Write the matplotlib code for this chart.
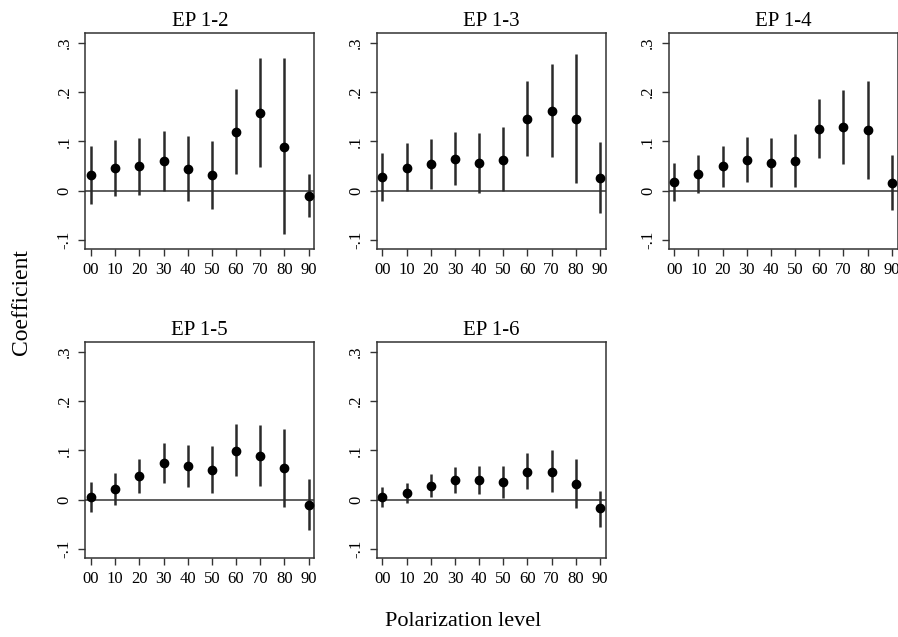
import matplotlib
matplotlib.use("Agg")
import matplotlib.pyplot as plt
import numpy as np

plt.rcParams['font.family'] = ['Liberation Serif', 'DejaVu Serif']

levels = [0, 10, 20, 30, 40, 50, 60, 70, 80, 90]
level_labels = ["00", "10", "20", "30", "40", "50", "60", "70", "80", "90"]
titles = ["EP 1-2", "EP 1-3", "EP 1-4", "EP 1-5", "EP 1-6"]

# point estimates
coef_12 = [0.031, 0.046, 0.049, 0.060, 0.043, 0.031, 0.119, 0.157, 0.089, -0.011]
coef_13 = [0.028, 0.046, 0.053, 0.064, 0.056, 0.062, 0.146, 0.162, 0.146, 0.025]
coef_14 = [0.017, 0.034, 0.049, 0.062, 0.056, 0.060, 0.125, 0.128, 0.123, 0.016]
coef_15 = [0.005, 0.021, 0.048, 0.074, 0.068, 0.060, 0.099, 0.089, 0.064, -0.010]
coef_16 = [0.006, 0.013, 0.028, 0.039, 0.039, 0.035, 0.057, 0.057, 0.032, -0.018]

# confidence interval bounds
lo_12 = [-0.027, -0.011, -0.009, 0.000, -0.022, -0.038, 0.034, 0.047, -0.087, -0.054]
hi_12 = [0.090, 0.103, 0.106, 0.120, 0.110, 0.101, 0.206, 0.268, 0.268, 0.033]
lo_13 = [-0.021, 0.000, 0.003, 0.011, -0.004, -0.001, 0.070, 0.068, 0.015, -0.045]
hi_13 = [0.077, 0.096, 0.104, 0.119, 0.117, 0.129, 0.222, 0.257, 0.278, 0.098]
lo_14 = [-0.021, -0.005, 0.007, 0.018, 0.007, 0.007, 0.066, 0.054, 0.024, -0.040]
hi_14 = [0.056, 0.073, 0.091, 0.108, 0.107, 0.114, 0.186, 0.204, 0.223, 0.073]
lo_15 = [-0.026, -0.010, 0.014, 0.034, 0.025, 0.013, 0.047, 0.027, -0.014, -0.061]
hi_15 = [0.036, 0.053, 0.082, 0.114, 0.111, 0.109, 0.153, 0.152, 0.143, 0.042]
lo_16 = [-0.014, -0.007, 0.006, 0.014, 0.011, 0.003, 0.021, 0.016, -0.018, -0.056]
hi_16 = [0.026, 0.034, 0.051, 0.066, 0.069, 0.069, 0.094, 0.100, 0.082, 0.018]

coefs = [coef_12, coef_13, coef_14, coef_15, coef_16]
lows = [lo_12, lo_13, lo_14, lo_15, lo_16]
highs = [hi_12, hi_13, hi_14, hi_15, hi_16]

W, H = 898, 637
fig = plt.figure(figsize=(W / 100, H / 100), dpi=100)

lefts = [85.3, 376.7, 668.5]
tops = [33.3, 342.3]
aw, ah = 229.0, 216.0
edge = '#333333'

for i in range(5):
    r, c = divmod(i, 3)
    ax = fig.add_axes([lefts[c] / W, 1 - (tops[r] + ah) / H, aw / W, ah / H])
    lo = np.array(lows[i])
    hi = np.array(highs[i])
    ax.axhline(0, color=edge, lw=1.1, zorder=1)
    ax.vlines(levels, lo, hi, color='#2a2a2a', lw=1.8, zorder=2)
    ax.plot(levels, coefs[i], 'o', color='black', ms=6, zorder=3)
    ax.set_xlim(-2.4, 92.4)
    ax.set_ylim(-0.119, 0.319)
    ax.set_xticks(levels)
    ax.set_xticklabels(level_labels)
    ax.set_yticks([-0.1, 0, 0.1, 0.2, 0.3])
    ax.set_yticklabels(["-.1", "0", ".1", ".2", ".3"], rotation=90, va='center')
    ax.tick_params(axis='both', labelsize=12, length=5, width=1, color=edge, pad=4)
    for s in ax.spines.values():
        s.set_color(edge)
        s.set_linewidth(1.1)
    ax.set_title(titles[i], fontsize=15, pad=5)

fig.text(22 / W, 1 - 302 / H, "Coefficient", rotation=90, ha='center', va='center', fontsize=17)
fig.text(463 / W, 1 - 622 / H, "Polarization level", ha='center', va='center', fontsize=16)

fig.savefig("out.png", dpi=100)
